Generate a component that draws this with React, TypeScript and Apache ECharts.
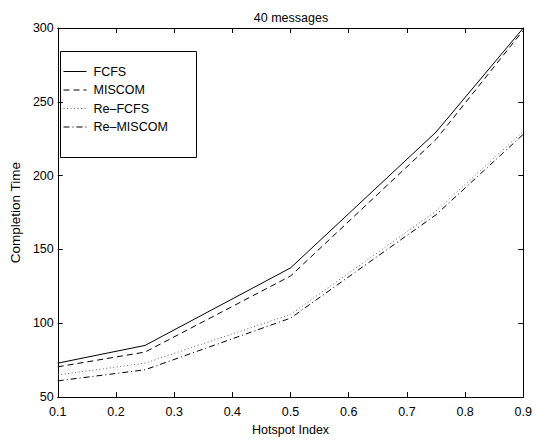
import React, { useEffect, useRef } from "react";
import * as echarts from "echarts";

const xValues = [0.1, 0.25, 0.5, 0.75, 0.9];
const fcfs = [73, 85, 137.5, 229.5, 300];
const miscom = [70.5, 80.5, 132, 224.5, 298.5];
const reFcfs = [65, 73, 106, 176, 230];
const reMiscom = [61, 68.5, 103.5, 173.5, 228];
const seriesNames = ["FCFS", "MISCOM", "Re–FCFS", "Re–MISCOM"];
const titleText = "40 messages";
const xName = "Hotspot Index";
const yName = "Completion Time";

const FONT = "'Liberation Sans', Arial, Helvetica, sans-serif";

export default function App() {
  const ref = useRef<HTMLDivElement>(null);
  useEffect(() => {
    if (!ref.current) return;
    const chart = echarts.init(ref.current, undefined, { renderer: "svg" });
    const mk = (vals: number[]) => xValues.map((x, i) => [x, vals[i]]);
    const axisCommon = {
      axisLine: { show: true, lineStyle: { color: "#000", width: 1 } },
      axisTick: { show: true, inside: true, length: 5, lineStyle: { color: "#000" } },
      splitLine: { show: false },
    };
    const styles: any[] = [
      { type: "solid", color: "#000" },
      { type: [6, 4], color: "#000" },
      { type: [1, 2.5], color: "#666" },
      { type: [6, 3, 1, 3], color: "#000" },
    ];
    const datas = [fcfs, miscom, reFcfs, reMiscom];
    chart.setOption({
      animation: false,
      backgroundColor: "#fff",
      title: {
        text: titleText,
        left: 286,
        top: 6,
        textAlign: "center",
        textStyle: { fontFamily: FONT, fontSize: 12.5, fontWeight: "normal", color: "#000" },
      },
      grid: { left: 46, right: 9, top: 28, bottom: 33, containLabel: false },
      legend: {
        orient: "vertical",
        left: 63,
        top: 65,
        itemWidth: 23,
        itemHeight: 14,
        itemGap: 5.5,
        padding: 0,
        data: seriesNames,
        itemStyle: { opacity: 0, borderWidth: 0 },
        lineStyle: { width: 1 },
        textStyle: { fontFamily: FONT, fontSize: 12.5, color: "#000", padding: [0, 0, 0, 2] },
      },
      graphic: [
        {
          type: "rect",
          shape: { x: 60.5, y: 51.5, width: 136, height: 106 },
          style: { fill: "none", stroke: "#000", lineWidth: 1 },
          z: 100,
        },
      ],
      xAxis: [
        {
          type: "value",
          min: 0.1,
          max: 0.9,
          interval: 0.1,
          name: xName,
          nameLocation: "middle",
          nameGap: 21,
          nameTextStyle: { fontFamily: FONT, fontSize: 12.5, color: "#000" },
          axisLabel: {
            fontFamily: FONT,
            fontSize: 12.5,
            color: "#000",
            margin: 8,
            formatter: (v: number) => v.toFixed(1),
          },
          ...axisCommon,
        },
        {
          type: "value",
          position: "top",
          min: 0.1,
          max: 0.9,
          interval: 0.1,
          axisLabel: { show: false },
          ...axisCommon,
        },
      ],
      yAxis: [
        {
          type: "value",
          min: 50,
          max: 300,
          interval: 50,
          name: yName,
          nameLocation: "middle",
          nameGap: 28,
          nameTextStyle: { fontFamily: FONT, fontSize: 13.5, color: "#000" },
          axisLabel: { fontFamily: FONT, fontSize: 12.5, color: "#000", margin: 4 },
          ...axisCommon,
        },
        {
          type: "value",
          position: "right",
          min: 50,
          max: 300,
          interval: 50,
          axisLabel: { show: false },
          ...axisCommon,
        },
      ],
      series: seriesNames.map((name, i) => ({
        name,
        type: "line",
        data: mk(datas[i]),
        symbol: "none",
        lineStyle: { width: 1, ...styles[i] },
        itemStyle: { color: styles[i].color },
      })),
    });
    return () => chart.dispose();
  }, []);
  return <div ref={ref} style={{ width: 535, height: 441, position: "absolute", left: 0, top: 0 }} />;
}
